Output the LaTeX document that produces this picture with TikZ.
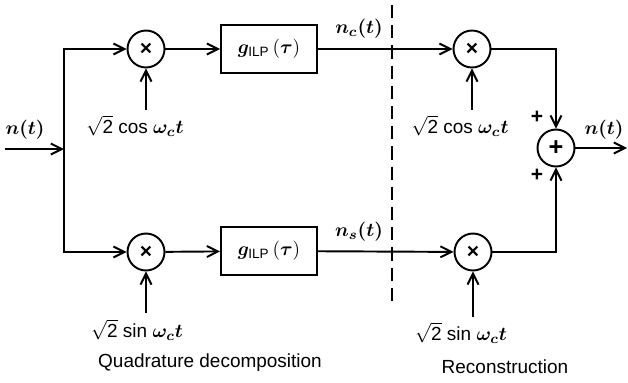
\documentclass[tikz,border=0pt]{standalone}
\usepackage{amsmath,bm}
\usepackage{fontspec}
\setmainfont{Liberation Sans}
\usetikzlibrary{arrows.meta,positioning}

\begin{document}
\begin{tikzpicture}[x=0.02cm, y=-0.02cm,
  mult/.style={draw, circle, line width=1.1pt, minimum size=0.74cm, inner sep=0pt, font=\bfseries\large},
  filt/.style={draw, line width=1.1pt, minimum width=1.92cm, minimum height=0.96cm, inner sep=0pt, font=\fontsize{11}{13}\selectfont},
  arr/.style={-{Straight Barb[length=2.2mm,width=2.2mm]}, line width=1.1pt},
  lbl/.style={font=\fontsize{10.8}{13}\selectfont, inner sep=1pt},
  sgn/.style={font=\bfseries\large, inner sep=1pt}
]
\useasboundingbox (0,0) rectangle (628,382);

% quadrature decomposition
\coordinate (in) at (5,149);
\coordinate (br) at (64,149);
\node[mult] (m1) at (146,49) {×};
\node[mult] (m2) at (146,252) {×};
\node[filt] (f1) at (269,49) {$\bm{g}_{\text{ILP}}\,(\bm{\tau})$};
\node[filt] (f2) at (269,251) {$\bm{g}_{\text{ILP}}\,(\bm{\tau})$};
\coordinate (c1) at (146,110);
\coordinate (s1) at (146,313);
\node[lbl] (cos1) at (135,126) {$\sqrt{\text{2}}$ cos $\bm{\omega_c t}$};
\node[lbl] (sin1) at (137,330) {$\sqrt{\text{2}}$ sin $\bm{\omega_c t}$};
\node[lbl] (nin) at (25,130) {$\bm{n(t)}$};

\draw[arr] (in) -- (br);
\draw[arr] (br) |- (m1);
\draw[arr] (br) |- (m2);
\draw[arr] (c1) -- (m1);
\draw[arr] (s1) -- (m2);
\draw[arr] (m1) -- (f1);
\draw[arr] (m2) -- (f2);

% divider
\coordinate (dtop) at (392,5);
\coordinate (dbot) at (392,307);
\draw[line width=0.9pt, dash pattern=on 7.5pt off 4pt] (dtop) -- (dbot);

% reconstruction
\node[mult] (m3) at (472,49) {×};
\node[mult] (m4) at (473,252) {×};
\node[mult, font=\bfseries\Large] (sum) at (556,148) {+};
\coordinate (c2) at (472,110);
\coordinate (s2) at (473,317);
\coordinate (out) at (627,148);
\node[lbl] (cos2) at (460,126) {$\sqrt{\text{2}}$ cos $\bm{\omega_c t}$};
\node[lbl] (sin2) at (461,333) {$\sqrt{\text{2}}$ sin $\bm{\omega_c t}$};
\node[lbl] (nc) at (359,29) {$\bm{n_c(t)}$};
\node[lbl] (ns) at (359,232) {$\bm{n_s(t)}$};
\node[lbl] (nout) at (604,130) {$\bm{n(t)}$};
\node[sgn] (p1) at (537,117) {+};
\node[sgn] (p2) at (537,175) {+};

\draw[arr] (f1) -- (m3);
\draw[arr] (f2) -- (m4);
\draw[arr] (c2) -- (m3);
\draw[arr] (s2) -- (m4);
\draw[arr] (m3) -| (sum);
\draw[arr] (m4) -| (sum);
\draw[arr] (sum) -- (out);

\node[lbl] (qd) at (210,363) {Quadrature decomposition};
\node[lbl] (rc) at (505,367) {Reconstruction};
\end{tikzpicture}
\end{document}
